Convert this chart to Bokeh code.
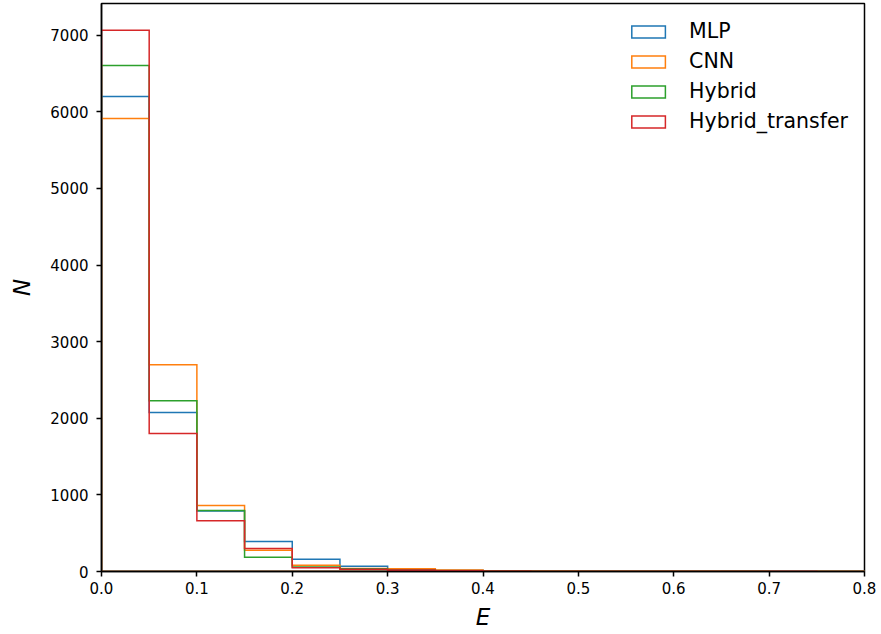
from bokeh.plotting import figure
from bokeh.models import Range1d, FixedTicker, Legend, LegendItem
from bokeh.embed import file_html
from bokeh.resources import INLINE

# bin edges (width 0.05 from 0 to 0.8)
bin_edges = [round(i * 0.05, 2) for i in range(17)]

series_names = ["MLP", "CNN", "Hybrid", "Hybrid_transfer"]
mlp_counts = [6200, 2075, 790, 392, 160, 68, 25, 15, 8, 5, 4, 3, 3, 5, 4, 2]
cnn_counts = [5915, 2700, 862, 278, 80, 38, 35, 18, 8, 5, 4, 3, 2, 2, 1, 2]
hybrid_counts = [6605, 2230, 795, 187, 60, 35, 20, 10, 6, 4, 3, 3, 2, 2, 1, 1]
hybrid_transfer_counts = [7065, 1800, 662, 300, 48, 30, 18, 10, 5, 4, 3, 2, 2, 3, 2, 1]
colors = ["#1f77b4", "#ff7f0e", "#2ca02c", "#d62728"]

x_ticks = [0.0, 0.1, 0.2, 0.3, 0.4, 0.5, 0.6, 0.7, 0.8]
y_ticks = [0, 1000, 2000, 3000, 4000, 5000, 6000, 7000]

FONT = "DejaVu Sans"

p = figure(width=881, height=634, output_backend="svg", toolbar_location=None,
           x_range=Range1d(0, 0.8), y_range=Range1d(0, 7415),
           min_border_left=101, min_border_right=17, min_border_top=3, min_border_bottom=63)
p.xgrid.visible = False
p.ygrid.visible = False
p.outline_line_color = "black"
p.outline_line_width = 1.5
p.background_fill_color = "white"
p.border_fill_color = "white"


def step_outline(edges, counts):
    xs = [edges[0]]
    ys = [0]
    for i, c in enumerate(counts):
        xs += [edges[i], edges[i + 1]]
        ys += [c, c]
    xs.append(edges[-1])
    ys.append(0)
    return xs, ys


all_counts = [mlp_counts, cnn_counts, hybrid_counts, hybrid_transfer_counts]
items = []
for name, counts, col in zip(series_names, all_counts, colors):
    xs, ys = step_outline(bin_edges, counts)
    r = p.patch(x=xs, y=ys, fill_alpha=0, line_color=col, line_width=1.5, line_join="miter")
    items.append(LegendItem(label=name, renderers=[r]))

legend = Legend(items=items, location="top_right")
legend.border_line_alpha = 0
legend.background_fill_alpha = 0
legend.label_text_font = FONT
legend.label_text_font_size = "20.5px"
legend.label_text_color = "black"
legend.glyph_width = 42
legend.glyph_height = 15
legend.label_standoff = 20
legend.spacing = 6
legend.margin = 0
legend.padding = 16
p.add_layout(legend)

for ax in (p.xaxis, p.yaxis):
    ax.axis_line_color = "black"
    ax.axis_line_width = 1.5
    ax.major_tick_line_color = "black"
    ax.major_tick_line_width = 1.5
    ax.major_tick_out = 5
    ax.major_tick_in = 0
    ax.minor_tick_line_color = None
    ax.major_label_text_font = FONT
    ax.major_label_text_font_size = "15px"
    ax.major_label_text_color = "black"
    ax.axis_label_text_font = FONT
    ax.axis_label_text_font_size = "23px"
    ax.axis_label_text_font_style = "italic"
    ax.axis_label_text_color = "black"

p.xaxis.ticker = FixedTicker(ticks=x_ticks)
p.xaxis.major_label_overrides = {t: f"{t:.1f}" for t in x_ticks}
p.yaxis.ticker = FixedTicker(ticks=y_ticks)
p.xaxis.axis_label = "E"
p.yaxis.axis_label = "N"
p.xaxis.major_label_standoff = 5
p.yaxis.major_label_standoff = 8
p.xaxis.axis_label_standoff = 7
p.yaxis.axis_label_standoff = 12

open("out.html", "w").write(file_html(p, INLINE))
